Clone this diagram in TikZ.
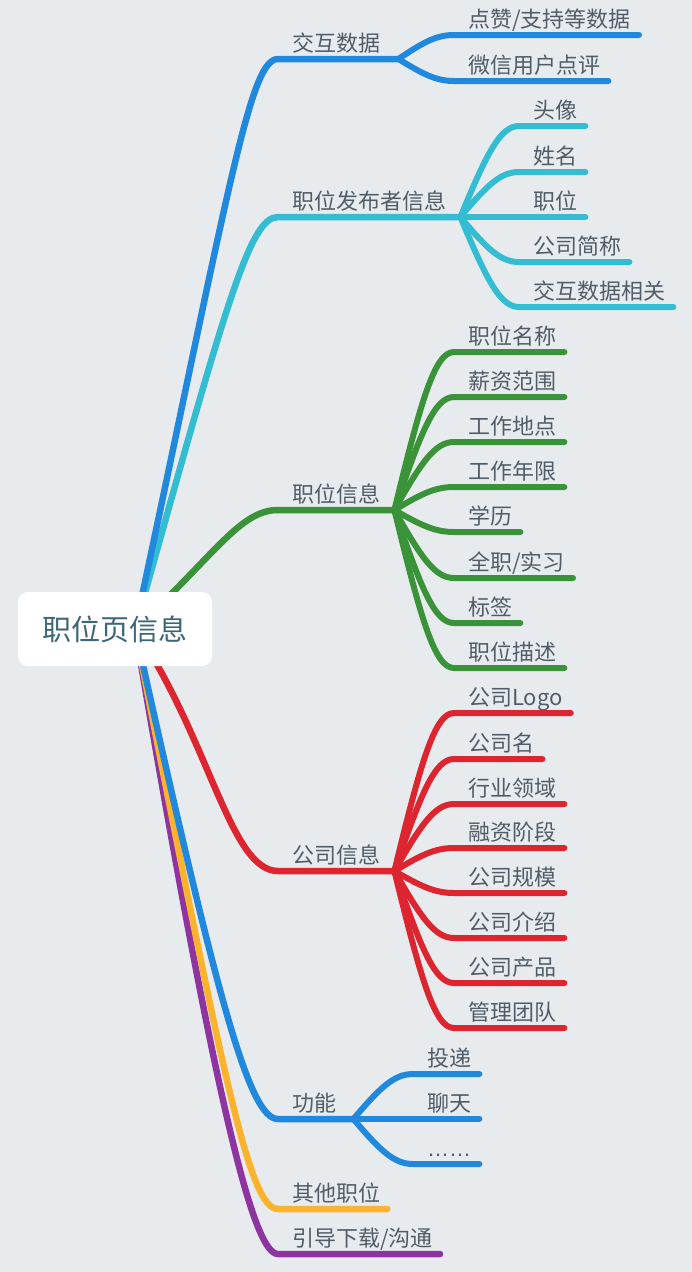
\documentclass[tikz,border=0pt]{standalone}
\usepackage{fontspec}
\setmainfont{Noto Sans CJK SC}
\newfontfamily\latinfont{Liberation Sans}
\usetikzlibrary{calc}
\pgfdeclarelayer{bg}
\pgfsetlayers{bg,main}
\definecolor{bgc}{HTML}{E8EBEE}
\definecolor{txtc}{HTML}{505D68}
\definecolor{rootc}{HTML}{3D6676}
\definecolor{cblue}{HTML}{2189DD}
\definecolor{ccyan}{HTML}{34BCD2}
\definecolor{cgreen}{HTML}{3B9339}
\definecolor{cred}{HTML}{DD2530}
\definecolor{cyellow}{HTML}{FBB32D}
\definecolor{cpurple}{HTML}{8E34A1}
\newcommand\childlink[3]{%
  \draw[kidline,#1] let \p0=(#2), \p3=($(#3.base west)+(-14,8)$),
    \n1={\x3-\x0}, \n2={\y3-\y0} in
    (\p0) .. controls ({\x0+0.45*\n1},{\y0+0.7*\n2}) and ({\x0+0.68*\n1},\y3) .. (\p3)
    -- ($(#3.base east)+(8,8)$);}
\newcommand\mainlink[5]{%
  \draw[mainline,#1] ($(root)+(20,0)$) .. controls #2 and #3 .. ($(#4.base west)+(-14,8)$)
    -- ($(#4.base east)+(#5,8)$) coordinate (#4bp);}
\begin{document}
\begin{tikzpicture}[x=1pt,y=-1pt,
  lbl/.style={anchor=base west, inner sep=0pt, font=\fontsize{22}{24}\selectfont, text=txtc},
  rootbox/.style={fill=white, rounded corners=10pt, minimum width=194pt, minimum height=74pt,
    inner sep=0pt, font=\fontsize{29}{32}\selectfont, text=rootc},
  mainline/.style={line width=6.5pt, line cap=round},
  kidline/.style={line width=6pt, line cap=round}]
\useasboundingbox (0,0) rectangle (692,1272);
% root
\node[rootbox] (root) at (115,629) {职位页信息};
% main topics
\node[lbl] (m1) at (292,51) {交互数据};
\node[lbl] (m2) at (292,209) {职位发布者信息};
\node[lbl] (m3) at (292,502) {职位信息};
\node[lbl] (m4) at (292,863) {公司信息};
\node[lbl] (m5) at (292,1111) {功能};
\node[lbl] (m6) at (292,1201) {其他职位};
\node[lbl] (m7) at (292,1246) {引导下载/沟通};
% children of m1
\node[lbl] (a1) at (468,27) {点赞/支持等数据};
\node[lbl] (a2) at (468,73) {微信用户点评};
% children of m2
\node[lbl] (b1) at (533,118) {头像};
\node[lbl] (b2) at (533,164) {姓名};
\node[lbl] (b3) at (533,209) {职位};
\node[lbl] (b4) at (533,254) {公司简称};
\node[lbl] (b5) at (533,299) {交互数据相关};
% children of m3
\node[lbl] (c1) at (468,344) {职位名称};
\node[lbl] (c2) at (468,389) {薪资范围};
\node[lbl] (c3) at (468,434) {工作地点};
\node[lbl] (c4) at (468,479) {工作年限};
\node[lbl] (c5) at (468,524) {学历};
\node[lbl] (c6) at (468,570) {全职/实习};
\node[lbl] (c7) at (468,615) {标签};
\node[lbl] (c8) at (468,660) {职位描述};
% children of m4
\node[lbl] (d1) at (468,705) {公司Logo};
\node[lbl] (d2) at (468,751) {公司名};
\node[lbl] (d3) at (468,796) {行业领域};
\node[lbl] (d4) at (468,840) {融资阶段};
\node[lbl] (d5) at (468,885) {公司规模};
\node[lbl] (d6) at (468,930) {公司介绍};
\node[lbl] (d7) at (468,975) {公司产品};
\node[lbl] (d8) at (468,1020) {管理团队};
% children of m5
\node[lbl] (e1) at (427,1066) {投递};
\node[lbl] (e2) at (427,1111) {聊天};
\node[lbl] (e3) at (427,1156) {\latinfont ……};
\begin{pgfonlayer}{bg}
\fill[bgc] (0,0) rectangle (692,1272);
\mainlink{cpurple}{(220,1130)}{(255,1254)}{m7}{7}
\mainlink{cyellow}{(225,1090)}{(250,1209)}{m6}{7}
\mainlink{cblue}{(219,1009)}{(250,1119)}{m5}{17}
\mainlink{cred}{(210,740)}{(230,871)}{m4}{14}
\mainlink{cgreen}{(215,555)}{(240,510)}{m3}{14}
\mainlink{ccyan}{(227,299)}{(250,217)}{m2}{14}
\mainlink{cblue}{(231,179)}{(250,59)}{m1}{18}
\foreach \k in {a1,a2} {\childlink{cblue}{m1bp}{\k}}
\foreach \k in {b1,b2,b3,b4,b5} {\childlink{ccyan}{m2bp}{\k}}
\foreach \k in {c1,c2,c3,c4,c5,c6,c7,c8} {\childlink{cgreen}{m3bp}{\k}}
\foreach \k in {d1,d2,d3,d4,d5,d6,d7,d8} {\childlink{cred}{m4bp}{\k}}
\foreach \k in {e1,e2,e3} {\childlink{cblue}{m5bp}{\k}}
\end{pgfonlayer}
\end{tikzpicture}
\end{document}
